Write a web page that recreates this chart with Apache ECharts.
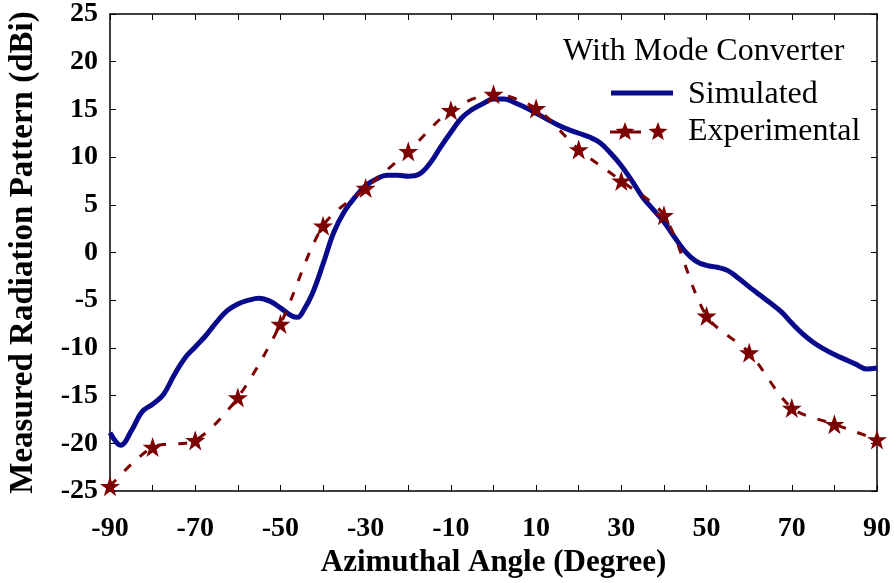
<!DOCTYPE html>
<html>
<head>
<meta charset="utf-8">
<script src="https://cdn.jsdelivr.net/npm/echarts@6/dist/echarts.min.js"></script>
<style>
  html, body { margin: 0; padding: 0; background: #fff; }
  #chart { width: 894px; height: 583px; }
</style>
</head>
<body>
<div id="chart"></div>
<script>
// simulated pattern
const simAngle = [-90, -88.5, -87.5, -85, -82.5, -80, -77.5, -75, -72.5, -70, -67.5, -65, -62.5, -60, -57.5, -55, -52.5, -50, -47.5, -46, -44.5, -42.5, -40, -37.5, -35, -32.5, -30, -27.5, -25, -22.5, -20, -17.5, -15, -12.5, -10, -7.5, -5, -2.5, 0, 2.5, 5, 7.5, 10, 12.5, 15, 17.5, 20, 22.5, 25, 27.5, 30, 32.5, 35, 37.5, 40, 42.5, 45, 47.5, 50, 52.5, 55, 57.5, 60, 62.5, 65, 67.5, 70, 72.5, 75, 77.5, 80, 82.5, 85, 87.5, 90];
const simValue = [-18.9, -19.9, -20.2, -18.7, -16.7, -15.9, -14.9, -12.9, -11.1, -9.9, -8.7, -7.3, -6.1, -5.4, -5.0, -4.8, -5.1, -5.8, -6.6, -6.8, -6.0, -4.3, -1.2, 2.1, 4.3, 5.8, 7.0, 7.7, 8.1, 8.1, 8.0, 8.2, 9.3, 11.0, 12.6, 14.1, 15.0, 15.6, 16.1, 16.1, 15.7, 15.2, 14.6, 14.0, 13.4, 12.9, 12.5, 12.1, 11.5, 10.4, 9.1, 7.5, 5.8, 4.5, 3.2, 1.6, 0.1, -0.9, -1.35, -1.55, -1.9, -2.7, -3.6, -4.45, -5.3, -6.2, -7.4, -8.5, -9.4, -10.1, -10.7, -11.2, -11.7, -12.2, -12.1];

// measured points
const expAngle = [-90, -80, -70, -60, -50, -40, -30, -20, -10, 0, 10, 20, 30, 40, 50, 60, 70, 80, 90];
const expValue = [-24.5, -20.4, -19.7, -15.2, -7.5, 2.8, 6.75, 10.6, 14.9, 16.6, 15.1, 10.8, 7.5, 3.9, -6.65, -10.5, -16.3, -18.0, -19.6];

const serif = "'Liberation Serif', 'Times New Roman', serif";
const simColor = '#0a0a8c';
const expColor = '#7d0000';
const starPath = 'path://M50,0 L61.8,35.5 L97.6,35.5 L68.5,57.4 L79.4,92.7 L50,70.9 L20.6,92.7 L31.5,57.4 L2.4,35.5 L38.2,35.5 Z';

// little star for the hand drawn legend
function star(cx, cy, r) {
    let pts = [];
    for (let i = 0; i < 10; i++) {
        let rr = i % 2 ? r * 0.42 : r;
        let a = -Math.PI / 2 + i * Math.PI / 5;
        pts.push([cx + rr * Math.cos(a), cy + rr * Math.sin(a)]);
    }
    return { type: 'polygon', shape: { points: pts }, style: { fill: expColor } };
}

let myChart = echarts.init(document.getElementById("chart"));

const axisLine = { show: true, onZero: false, lineStyle: { color: '#000', width: 1.5 } };
const axisTick = { show: true, inside: true, length: 6, lineStyle: { color: '#000', width: 1 } };

myChart.setOption({
    animation: false,
    grid: { left: 110, top: 14, right: 17, bottom: 92, outerBoundsMode: 'none' },
    graphic: [
        { type: 'text', left: 563, top: 36, style: { text: 'With Mode Converter', font: '32px ' + serif, fill: '#000' } },
        { type: 'line', shape: { x1: 611, y1: 93, x2: 673, y2: 93 }, style: { stroke: simColor, lineWidth: 5 } },
        { type: 'text', left: 688, top: 79, style: { text: 'Simulated', font: '32px ' + serif, fill: '#000' } },
        { type: 'line', shape: { x1: 610, y1: 132, x2: 641, y2: 132 }, style: { stroke: expColor, lineWidth: 3 } },
        star(625, 132, 10),
        star(658, 132, 10),
        { type: 'text', left: 688, top: 116, style: { text: 'Experimental', font: '32px ' + serif, fill: '#000' } }
    ],
    xAxis: [{
        type: 'value', min: -90, max: 90, interval: 10,
        axisLine: axisLine, axisTick: axisTick, splitLine: { show: false },
        axisLabel: {
            margin: 24,
            fontFamily: serif, fontWeight: 'bold', fontSize: 28, color: '#000',
            formatter: v => ((v + 90) % 20 === 0 ? String(v) : '')
        },
        name: 'Azimuthal Angle (Degree)', nameLocation: 'middle', nameGap: 56,
        nameTruncate: { maxWidth: 1000 },
        nameTextStyle: { fontFamily: serif, fontWeight: 'bold', fontSize: 31, color: '#000', overflow: 'none' }
    }, {
        type: 'value', position: 'top', min: -90, max: 90, interval: 10,
        axisLine: axisLine, axisTick: axisTick, axisLabel: { show: false }, splitLine: { show: false }
    }],
    yAxis: [{
        type: 'value', min: -25, max: 25, interval: 5,
        axisLine: axisLine, axisTick: axisTick, splitLine: { show: false },
        axisLabel: { margin: 12, fontFamily: serif, fontWeight: 'bold', fontSize: 28, color: '#000' },
        name: 'Measured Radiation Pattern (dBi)', nameLocation: 'middle', nameGap: 70,
        nameTruncate: { maxWidth: 1000 },
        nameTextStyle: { fontFamily: serif, fontWeight: 'bold', fontSize: 33, color: '#000', overflow: 'none' }
    }, {
        type: 'value', position: 'right', min: -25, max: 25, interval: 5,
        axisLine: axisLine, axisTick: axisTick, axisLabel: { show: false }, splitLine: { show: false }
    }],
    series: [
        {
            name: 'Simulated',
            type: 'line',
            smooth: 0.4,
            showSymbol: false,
            symbol: 'none',
            color: simColor,
            lineStyle: { color: simColor, width: 5 },
            data: simAngle.map((a, i) => [a, simValue[i]])
        },
        {
            name: 'Experimental',
            type: 'line',
            smooth: 0.3,
            symbol: starPath,
            symbolSize: 20,
            color: expColor,
            itemStyle: { color: expColor },
            lineStyle: { color: expColor, width: 3, type: [9, 12] },
            data: expAngle.map((a, i) => [a, expValue[i]])
        }
    ]
})
</script>
</body>
</html>
